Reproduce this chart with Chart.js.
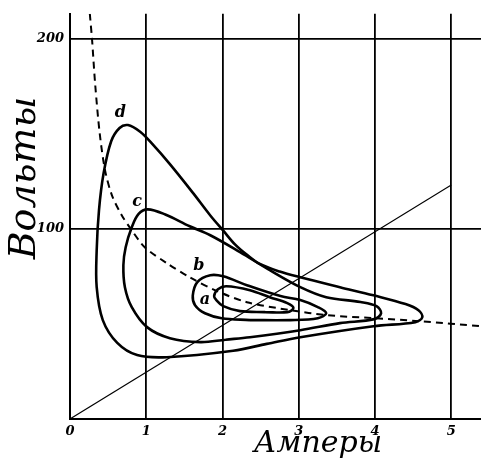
<!DOCTYPE html>
<html><head><meta charset="utf-8">
<script src="https://cdn.jsdelivr.net/npm/chart.js@4.4.1/dist/chart.umd.min.js"></script>
<style>html,body{margin:0;padding:0;background:#fff;}#wrap{width:481px;height:459px;}</style>
</head><body><div id="wrap"><canvas id="cv" width="481" height="459"></canvas></div>
<script>
// Axis tick values
const xTicks = [0, 1, 2, 3, 4, 5];
const yTicks = [0, 100, 200];
const xTitle = 'Амперы';
const yTitle = 'Вольты';

// Loop d (outermost)
const loopD_I = [2.58,2.14,1.27,0.88,0.62,0.43,0.35,0.35,0.38,0.44,0.54,0.65,0.76,0.92,1.07,1.31,1.61,1.84,2.01,2.17,2.33,2.49,2.75,3.02,3.54,3.98,4.40,4.57,4.62,4.53,3.98,3.02,2.58];
const loopD_V = [39.5,35.9,32.5,33.6,40,52,69.3,88.7,109.7,129,146,153,154.5,151,145,134,119,107,99,91.5,86,81.5,77.5,74.5,69.3,65,60.4,57.2,53.5,50.9,48.8,43,39.5];
// Loop c
const loopC_I = [2.04,1.71,1.31,1.01,0.81,0.72,0.70,0.73,0.81,0.90,1.02,1.25,1.57,1.84,2.23,2.62,3.02,3.36,3.81,4.02,4.08,3.99,3.54,3.02,2.36,2.04];
const loopC_V = [41.7,40.4,42.5,48.3,58.8,69.3,80.8,90.3,100.8,107.8,110.2,107.5,101.3,96.6,87.7,78.2,69.3,64,61.5,59.3,55.6,52.5,50.4,46.7,43,41.7];
// Loop b
const loopB_I = [2.36,1.99,1.77,1.64,1.61,1.67,1.84,2.01,2.32,2.76,3.02,3.25,3.36,3.25,2.89,2.36];
const loopB_V = [52,53,55.6,59.8,64.8,72,75.6,75,70.3,64.6,62.5,58.8,55.6,53,52,52];
// Loop a (innermost)
const loopA_I = [2.56,2.23,2.01,1.92,1.89,1.94,2.05,2.36,2.62,2.85,2.93,2.85,2.56];
const loopA_V = [56.2,56.7,59.3,62.5,64.6,68.2,69.8,67.7,64,60.9,58.3,56.2,56.2];
// Dashed hyperbola-like curve
const dash_I = [0.26,0.29,0.33,0.39,0.46,0.55,0.68,0.81,0.98,1.27,1.57,1.93,2.32,2.89,3.37,3.98,4.59,5.39];
const dash_V = [213,199,176,150,130.7,117.6,107,99.2,90.3,81.9,74.5,67.2,61.4,57.2,54.6,53,51.4,48.8];
// Straight line
const line_I = [0, 5];
const line_V = [0, 123];
// Curve letters
const curveLabels = ['a', 'b', 'c', 'd'];
const curveLabelI = [1.77, 1.69, 0.88, 0.66];
const curveLabelV = [62.5, 80.3, 114.4, 161];

function pts(xs, ys) { return xs.map((x, i) => ({x: x, y: ys[i]})); }

const serif = '"DejaVu Serif", "Liberation Serif", serif';

const textPlugin = {
  id: 'texts',
  afterDraw(chart) {
    const ctx = chart.ctx;
    const xs = chart.scales.x, ys = chart.scales.y;
    ctx.save();
    ctx.fillStyle = '#000';
    ctx.textAlign = 'center';
    ctx.textBaseline = 'middle';
    ctx.font = 'italic bold 16px ' + serif;
    curveLabels.forEach((t, i) => {
      ctx.fillText(t, xs.getPixelForValue(curveLabelI[i]), ys.getPixelForValue(curveLabelV[i]));
    });
    ctx.font = 'italic 30px ' + serif;
    ctx.fillText(xTitle, 318, 444);
    ctx.translate(25, 178);
    ctx.rotate(-Math.PI / 2);
    ctx.font = 'italic 38px ' + serif;
    ctx.fillText(yTitle, 0, 0);
    ctx.restore();
  }
};

const loopStyle = {borderColor: '#000', borderWidth: 2.6, pointRadius: 0, showLine: true, tension: 0.35, fill: false};

new Chart(document.getElementById('cv'), {
  type: 'scatter',
  data: {
    datasets: [
      Object.assign({label: 'd', data: pts(loopD_I, loopD_V)}, loopStyle),
      Object.assign({label: 'c', data: pts(loopC_I, loopC_V)}, loopStyle),
      Object.assign({label: 'b', data: pts(loopB_I, loopB_V)}, loopStyle),
      Object.assign({label: 'a', data: pts(loopA_I, loopA_V)}, loopStyle),
      {label: 'dash', data: pts(dash_I, dash_V), borderColor: '#000', borderWidth: 2, borderDash: [7, 5], pointRadius: 0, showLine: true, tension: 0.3},
      {label: 'line', data: pts(line_I, line_V), borderColor: '#000', borderWidth: 1.1, pointRadius: 0, showLine: true, tension: 0}
    ]
  },
  options: {
    responsive: false,
    animation: false,
    devicePixelRatio: 1,
    layout: {padding: {top: 13, left: 0, right: 0, bottom: 0}},
    plugins: {legend: {display: false}, tooltip: {enabled: false}},
    scales: {
      x: {
        type: 'linear', min: 0, max: 5.39,
        afterFit(s) { s.height = 40; },
        afterBuildTicks(s) { s.ticks = xTicks.map(v => ({value: v})); },
        grid: {color: '#000', lineWidth: 1.8, drawTicks: false},
        border: {display: true, color: '#000', width: 2},
        ticks: {color: '#000', padding: 5, font: {family: serif, size: 13, style: 'italic', weight: 'bold'}}
      },
      y: {
        type: 'linear', min: 0, max: 213,
        afterFit(s) { s.width = 70; },
        afterBuildTicks(s) { s.ticks = yTicks.map(v => ({value: v})); },
        grid: {color: '#000', lineWidth: 1.8, drawTicks: false},
        border: {display: true, color: '#000', width: 2},
        ticks: {color: '#000', padding: 6, font: {family: serif, size: 13, style: 'italic', weight: 'bold'},
          callback: v => v === 0 ? '' : String(v)}
      }
    }
  },
  plugins: [textPlugin]
});
</script></body></html>
